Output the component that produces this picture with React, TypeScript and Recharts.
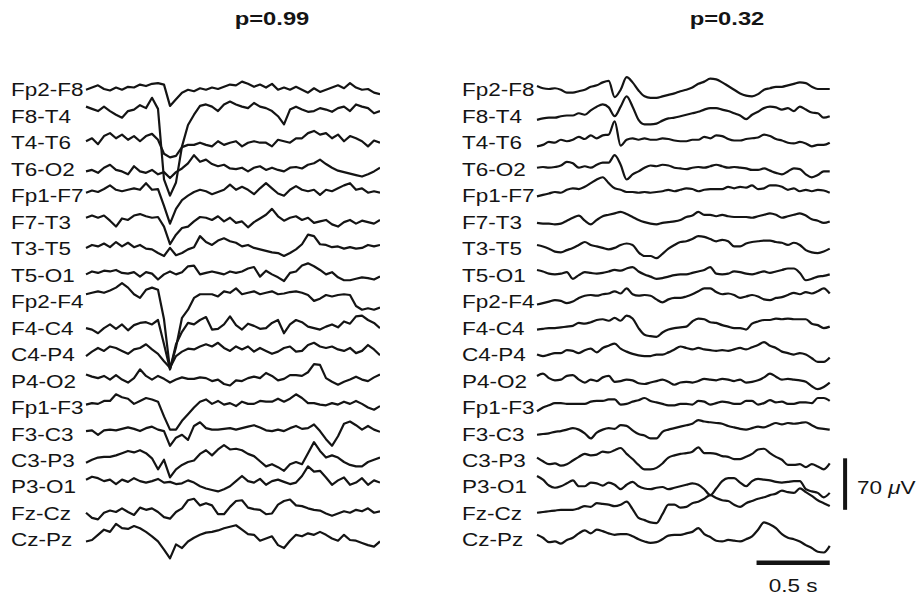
import { LineChart, Line, XAxis, YAxis, ReferenceLine } from "recharts";

// Bipolar montage, top to bottom
const CHANNELS = [
  "Fp2-F8", "F8-T4", "T4-T6", "T6-O2",
  "Fp1-F7", "F7-T3", "T3-T5", "T5-O1",
  "Fp2-F4", "F4-C4", "C4-P4", "P4-O2",
  "Fp1-F3", "F3-C3", "C3-P3", "P3-O1",
  "Fz-Cz", "Cz-Pz",
];

// 2 s epochs, 50 samples each, amplitudes in µV
const EPOCH_S = 2;
const N_SAMPLES = 50;

// --- p=0.99 epoch (left) ---
const l_Fp2F8 = [0, 3, 6, 1, -1, 3, 0, 4, 3, 7, 5, 8, 9, 7, -22, -13, -4, 0, -2, 2, 0, 3, 1, 4, 7, 6, 11, 8, 4, 7, 3, 8, 0, 3, 0, 4, 0, -4, 2, -3, 0, 3, 6, 2, 9, 3, 0, 1, -4, -6];
const l_F8T4 = [13, 10, 7, 13, 7, 2, -2, 7, 9, 15, 11, 25, 10, -86, -108, -90, -41, -12, 2, 14, 16, 13, 7, 16, 20, 16, 13, 11, 18, 13, 11, 7, 0, -11, 9, 13, 9, 6, 7, 11, 9, 6, 11, 13, 7, 16, 13, 11, 4, 7];
const l_T4T6 = [2, 6, -2, 9, 13, 6, 11, 4, 9, 2, 9, 12, 4, -15, -20, -18, -6, -3, -3, 0, -3, -5, 2, -3, 0, 2, -5, 0, 2, 0, 0, -5, 4, 2, 0, 6, 6, 13, 16, 11, 13, 6, 11, 2, 9, 6, 2, -5, 3, 0];
const l_T6O2 = [-3, -1, -5, 2, 6, -1, -3, -7, 4, -3, -5, -1, -7, -4, -12, -4, 1, 8, 19, 10, 13, 7, 4, 6, 1, 0, 2, -3, 2, 4, -1, 2, -1, -3, 2, 3, 1, 6, 8, 13, 7, 2, -2, -4, -6, -8, -10, -7, -3, 2];
const l_Fp1F7 = [4, 7, 5, 9, 14, 8, 6, 8, 10, 8, 17, 8, 9, -14, -38, -18, -6, 0, 5, 8, 6, 2, 5, 8, 15, 8, 12, 8, 2, 10, 17, 10, 3, 0, 8, 13, 8, 6, 8, 1, 8, 6, 10, 14, 17, 8, 10, 4, 6, 4];
const l_F7T3 = [6, 9, 6, 9, 2, -6, 5, 3, 9, 11, 8, 6, 7, -6, -30, -17, -8, -6, 1, 7, 6, 3, 8, 1, 6, -1, 1, -7, 0, 5, 10, 18, 8, 2, 6, 8, 3, 6, -1, 1, 3, -3, -6, 0, 3, -2, 2, 0, -2, 3];
const l_T3T5 = [1, 5, 3, 7, 2, 9, 3, 8, 2, 5, 0, -1, -6, -10, 1, -9, -6, -1, 2, 17, 9, 5, 11, 14, 10, 8, 3, 5, 1, -1, -3, -5, -6, -10, -6, -1, 6, 19, 17, 6, 5, 2, 3, 0, 2, 0, 1, 5, 3, 5];
const l_T5O1 = [1, 5, 3, 6, 5, 7, 3, 2, 4, -2, 4, 2, -6, 1, 5, 1, 4, 12, 13, 1, 3, 5, 3, 1, 5, 3, 5, 9, 11, -2, 6, 1, -3, -8, 3, 5, 13, 16, 12, 7, 1, 4, -3, -7, -7, -5, -3, -4, -6, -2];
const l_Fp2F4 = [10, 12, 14, 12, 15, 19, 25, 19, 10, 5, 16, 19, 16, -24, -92, -62, -22, -11, 5, 10, 10, 10, 7, 14, 12, 18, 10, 12, 14, 10, 12, 14, 10, 11, 13, 14, 12, 9, 1, 4, 9, 7, 9, 10, 9, -6, -11, -9, -11, -8];
const l_F4C4 = [0, -2, -7, 0, 5, -1, 5, -3, 4, 7, 8, 5, 11, -22, -56, -22, -5, 7, 5, 11, 15, -2, -1, 5, 16, 4, -2, 6, 3, -1, 0, 7, 11, -7, 5, 11, 8, 2, 0, -2, 2, 5, 1, 9, 6, 16, 17, 11, 7, 0];
const l_C4P4 = [-2, 4, 9, 5, 11, 9, 5, 1, 7, 9, 14, 7, 1, -9, -18, -2, 4, 8, 7, 11, 14, 11, 16, 9, 5, 11, 7, 11, 4, 9, 5, 1, 4, 9, 11, 4, 5, 13, 16, 11, 9, 11, 7, 5, 9, 2, 5, 13, 7, -1];
const l_P4O2 = [9, 6, 4, 7, 2, 8, 2, -2, 4, 16, 7, 2, 7, 3, -2, 2, 5, 3, 3, 5, 4, 0, 2, -4, -6, 1, 0, 4, 6, 4, 11, 7, 1, 3, 8, 8, 7, 12, 23, 22, 4, -1, -5, -1, 2, 6, 2, 0, 5, 9];
const l_Fp1F3 = [4, 6, 5, 9, 9, 18, 14, 12, 5, 9, 13, 11, 8, -12, -30, -30, -18, -9, 0, 8, 11, 5, 9, 4, 6, 2, 8, 5, 5, 9, 8, 8, 12, 8, 12, 18, 13, 6, 6, 4, 3, 6, 4, 8, 5, 9, 5, 0, -3, 2];
const l_F3C3 = [4, 5, -1, 5, 6, 5, 7, 9, 7, 4, 8, 10, 6, 4, -16, -5, -1, -8, 11, 16, 8, 6, 6, 7, 8, 6, 8, 10, 12, 9, 5, 4, 6, 4, 8, 11, 7, 8, 13, 4, -7, -16, -3, 14, 17, 12, 6, 11, 6, 3];
const l_C3P3 = [-3, 1, 4, 5, 5, 7, 10, 13, 11, 14, 10, 3, -12, 1, -23, -12, -6, -2, 0, 9, 14, 7, 15, 21, 15, 16, 14, 9, 6, -1, -8, -5, -9, -14, -5, -2, -5, 10, 25, 13, 4, 7, 4, -2, -6, -8, -8, -2, 1, 4];
const l_P3O1 = [10, 14, 12, 8, 10, 4, 10, 7, 12, 8, 6, 8, 11, 6, 7, 4, 5, 9, 6, 1, -2, -4, -6, -3, 1, 8, 15, 8, 6, 11, 3, 8, 10, 7, 4, 6, 15, 28, 21, 22, 13, 3, 9, 13, 3, 6, 12, 3, 9, 6];
const l_FzCz = [1, -6, -8, 1, 4, 2, 7, 2, -2, 8, 5, 7, 2, -5, -7, 2, 7, 18, 20, 11, 14, 11, -1, -1, 9, 17, 18, 8, 6, 5, -1, 0, 12, 17, 19, 11, 10, 7, 5, 4, 0, -3, 0, 3, 1, 5, 3, 7, 1, 3];
const l_CzPz = [-2, 0, 7, 14, 11, 22, 16, 15, 19, 16, 11, 5, -2, -13, -25, -6, -11, -2, 3, 7, 10, 11, 13, 16, 18, 20, 14, 8, 7, -1, 2, 5, -7, -11, -1, 7, 5, 9, 7, 11, 7, 2, -1, 7, 0, -1, -4, -7, -9, -2];

// --- p=0.32 epoch (right) ---
const r_Fp2F8 = [5, 2, 1, 2, 0, -4, -4, -2, 0, 4, 6, 10, 12, -10, 0, 17, 10, -1, -9, -11, -11, -9, -7, -5, -2, 0, 3, 8, 11, 15, 14, 10, 5, 0, -5, -8, -9, -6, 0, 2, 4, 4, 6, 8, 10, 9, 4, 1, 1, 1];
const r_F8T4 = [-5, -3, -2, -2, 0, 1, 1, 4, 2, 8, 13, 16, 12, 0, 13, 27, 13, -5, -11, -11, -10, -6, -3, -2, 0, 2, 4, 6, 9, 11, 11, 9, 7, 4, 1, -4, 2, 6, 11, 13, 12, 9, 11, 7, 13, 9, 5, 4, -2, 0];
const r_T4T6 = [-5, -3, 1, 0, 4, 2, 4, 8, 5, 10, 6, 10, 11, 29, -4, 4, 6, 4, 6, 4, 4, 6, 5, 3, 2, 2, 4, 4, 8, 6, 10, 9, 5, 3, 3, 5, 6, 7, 11, 9, 5, 3, 0, -1, 1, -1, -5, -3, -3, 0];
const r_T6O2 = [2, 3, 2, 3, 5, 10, 8, 2, 4, 2, 6, 9, 9, 19, 6, -14, -7, -3, 2, 5, 4, 6, 5, 2, 1, 0, 2, 3, 2, 4, 6, 4, 2, 3, 2, 1, -1, -1, 1, -2, -5, -7, -3, 1, 0, -7, -11, -8, -3, -3];
const r_Fp1F7 = [-1, 1, 3, 5, 4, 8, 10, 9, 12, 17, 22, 25, 17, 10, 8, 5, 5, 4, 5, 4, 5, 6, 8, 6, 8, 10, 9, 6, 8, 9, 9, 9, 12, 10, 12, 11, 14, 9, 10, 14, 14, 12, 8, 10, 6, 8, 6, 8, 7, 4];
const r_F7T3 = [-1, -2, -2, -3, -2, 2, 6, 9, 2, -3, 3, 8, 10, 12, 14, 11, 7, 3, 0, -2, -3, -1, 0, 1, 3, 7, 9, 14, 10, 10, 8, 10, 8, 7, 7, 7, 6, 8, 10, 12, 10, 6, 8, 10, 12, 9, 4, 2, -1, 1];
const r_T3T5 = [5, 3, 0, -4, -5, -2, 1, 5, 9, 5, 3, 1, -1, 1, 5, 7, 5, -5, -10, -10, -13, -7, 0, 5, 9, 10, 13, 17, 16, 13, 10, 12, 10, 3, 3, 7, 9, 10, 11, 11, 9, 8, 5, 8, 5, -2, -5, -6, -4, 0];
const r_T5O1 = [7, 5, 2, 1, 2, 4, -5, 0, 4, 3, 2, 3, 5, 7, 6, 9, 11, 5, 1, -2, -5, -4, -2, 0, 1, 1, 3, 5, 7, 11, 2, 1, 2, 5, 4, 2, 1, 3, 5, 3, 5, 7, 9, 9, 3, -7, -5, -2, -1, 1];
const r_Fp2F4 = [-4, -2, 0, 2, 1, -2, 0, 5, 8, 9, 8, 10, 11, 14, 11, 18, 10, 8, 9, 8, 3, -1, 3, 5, 5, 7, 10, 14, 18, 18, 13, 10, 11, 9, 5, 7, 9, 7, 3, 2, 5, 6, 9, 12, 10, 13, 11, 14, 18, 11];
const r_F4C4 = [-2, -1, 0, 0, 1, 2, 3, 7, 6, 8, 11, 12, 10, 14, 10, 17, 13, 0, -9, -11, -12, -6, -2, 0, 1, 2, 9, 13, 12, 8, 7, 4, 2, 0, 0, -2, 6, 9, 11, 11, 13, 12, 13, 12, 12, 12, 6, 4, 0, 2];
const r_C4P4 = [0, -2, 0, 2, 2, 6, 5, 2, 6, 8, 3, 9, 12, 15, 8, 4, 1, -1, -2, -2, 0, 0, 3, 7, 11, 9, 7, 9, 7, 6, 5, 6, 5, 7, 9, 7, 10, 13, 17, 12, 9, 4, 2, 0, 2, 0, -5, -10, -10, -4];
const r_P4O2 = [7, 10, 4, 1, 2, 7, 8, 2, -2, 2, 0, 5, 7, -1, 0, 2, 1, -3, -4, -2, 0, 2, -1, -5, -2, -1, -2, 0, 3, 2, 1, 3, 2, 0, 2, -2, -1, 1, 5, 10, 6, 2, 3, 2, 1, -1, -7, -11, -8, -2];
const r_Fp1F3 = [-5, 0, 3, 6, 6, 5, 5, 5, 5, 8, 9, 9, 11, 11, 4, 5, 8, 10, 13, 9, 7, 5, 3, 3, 5, 5, 4, 9, 8, 4, 6, 8, 7, 5, 5, 9, 9, 4, 6, 10, 7, 8, 5, 5, 7, 7, 6, 13, 13, 9];
const r_F3C3 = [-1, 0, 1, 3, 4, 6, 8, 6, 1, -6, 2, 6, 8, 7, 12, 11, 5, 0, -2, -6, -6, 3, 6, 8, 10, 12, 14, 19, 17, 16, 15, 14, 11, 9, 7, 6, 8, 10, 9, 12, 15, 13, 15, 14, 15, 16, 12, 8, 7, 6];
const r_C3P3 = [4, -1, -5, -4, -7, -5, 0, 5, 9, 7, 8, 12, 11, 14, 17, 9, 2, -6, -12, -12, -10, -4, 4, 7, 9, 10, 12, 18, 10, 10, 9, 6, 5, 2, 2, 5, 9, 15, 16, 10, 5, 1, -6, -6, -5, -9, -5, -8, -12, -4];
const r_P3O1 = [15, 10, 2, -1, 1, 5, 9, 1, 1, 6, 5, 2, 6, 3, -3, 3, 7, 1, -2, -3, -1, 0, -3, -1, 1, 3, 5, 3, -3, -11, -2, 8, 12, 12, 6, 1, 8, 11, 10, 9, 7, 6, 7, 8, 8, -3, -6, -8, -14, -8];
const r_FzCz = [1, 2, 3, 4, 5, 5, 5, 7, 10, 9, 14, 13, 12, 10, 12, 16, 6, -6, -9, -12, -13, -1, 12, 12, 8, 9, 14, 16, 20, 25, 21, 18, 17, 12, 9, 14, 17, 20, 22, 25, 27, 31, 29, 28, 34, 29, 24, 18, 14, 10];
const r_CzPz = [7, 3, -3, -2, -5, 0, 3, 9, 13, 9, 14, 12, 9, 7, 8, 8, 5, 1, -2, -4, -3, 1, 6, 7, 7, 9, 11, 16, 8, 4, -1, -2, 0, -1, -2, 1, 5, 14, 24, 21, 16, 8, 3, 1, -2, -7, -11, -16, -17, -8];

const LEFT_TRACES = [l_Fp2F8, l_F8T4, l_T4T6, l_T6O2, l_Fp1F7, l_F7T3, l_T3T5, l_T5O1, l_Fp2F4, l_F4C4, l_C4P4, l_P4O2, l_Fp1F3, l_F3C3, l_C3P3, l_P3O1, l_FzCz, l_CzPz];
const RIGHT_TRACES = [r_Fp2F8, r_F8T4, r_T4T6, r_T6O2, r_Fp1F7, r_F7T3, r_T3T5, r_T5O1, r_Fp2F4, r_F4C4, r_C4P4, r_P4O2, r_Fp1F3, r_F3C3, r_C3P3, r_P3O1, r_FzCz, r_CzPz];

// scale bars
const SCALE_UV = 70;
const SCALE_S = 0.5;

// layout
const ROW_UV = 36; // spacing between channels
const Y_DOMAIN: [number, number] = [-680, 54];
const LABEL_W = 75;
const PLOT_H = 540;
const STRETCH = 1.25; // the figure is a bit wider than tall
const INK = "#141414";
const FONT = '"Liberation Sans", Arial, Helvetica, sans-serif';

const OFFSETS = CHANNELS.map((_, c) => -c * ROW_UV);

function buildRows(traces: number[][]) {
  const dt = EPOCH_S / (N_SAMPLES - 1);
  return traces[0].map((_, i) => {
    const row: Record<string, number> = { t: i * dt };
    traces.forEach((tr, c) => {
      row["c" + c] = tr[i] + OFFSETS[c];
    });
    return row;
  });
}

const leftRows = buildRows(LEFT_TRACES);
const rightRows = buildRows(RIGHT_TRACES);

const ChannelTick = (props: any) => {
  const { y, payload } = props;
  const idx = Math.round(-payload.value / ROW_UV);
  return (
    <text
      x={0}
      y={0}
      dy="0.36em"
      transform={`translate(0,${y}) scale(${STRETCH},1)`}
      fontSize={18}
      fontFamily={FONT}
      fill={INK}
      textAnchor="start"
    >
      {CHANNELS[idx]}
    </text>
  );
};

function Montage({
  rows,
  width,
  xMax,
  curve,
  children,
}: {
  rows: Record<string, number>[];
  width: number;
  xMax: number;
  curve: "linear" | "monotone";
  children?: React.ReactNode;
}) {
  return (
    <LineChart width={width} height={PLOT_H} data={rows} margin={{ top: 0, right: 0, bottom: 0, left: 0 }}>
      <XAxis dataKey="t" type="number" domain={[0, xMax]} hide />
      <YAxis
        type="number"
        domain={Y_DOMAIN}
        ticks={OFFSETS}
        interval={0}
        width={LABEL_W}
        axisLine={false}
        tickLine={false}
        tick={<ChannelTick />}
      />
      {CHANNELS.map((name, c) => (
        <Line
          key={name}
          dataKey={"c" + c}
          type={curve}
          stroke={INK}
          strokeWidth={2.2}
          strokeLinejoin="round"
          dot={false}
          isAnimationActive={false}
        />
      ))}
      {children}
    </LineChart>
  );
}

export default function App() {
  const txt = (x: number, y: number, s: React.ReactNode, opts: any = {}) => (
    <text
      x={0}
      y={0}
      transform={`translate(${x},${y}) scale(${STRETCH},1)`}
      fontFamily={FONT}
      fill={INK}
      fontSize={18}
      {...opts}
    >
      {s}
    </text>
  );

  return (
    <div style={{ position: "absolute", left: 0, top: 0, width: 920, height: 598, background: "#fff" }}>
      <div style={{ position: "absolute", left: 11, top: 50 }}>
        <Montage rows={leftRows} width={LABEL_W + 294} xMax={EPOCH_S} curve="linear" />
      </div>
      <div style={{ position: "absolute", left: 462, top: 50 }}>
        <Montage rows={rightRows} width={LABEL_W + 322} xMax={2.2} curve="monotone">
          <ReferenceLine
            segment={[{ x: 2.105, y: -501 }, { x: 2.105, y: -501 - SCALE_UV }]}
            stroke={INK}
            strokeWidth={4}
            ifOverflow="visible"
          />
          <ReferenceLine
            segment={[{ x: EPOCH_S - SCALE_S, y: -643 }, { x: EPOCH_S, y: -643 }]}
            stroke={INK}
            strokeWidth={4.5}
            ifOverflow="visible"
          />
        </Montage>
      </div>
      <svg width={920} height={598} style={{ position: "absolute", left: 0, top: 0, pointerEvents: "none" }}>
        {txt(272, 25, "p=0.99", { fontWeight: "bold", textAnchor: "middle", fontSize: 19 })}
        {txt(727, 25, "p=0.32", { fontWeight: "bold", textAnchor: "middle", fontSize: 19 })}
        {txt(
          857,
          494,
          <>
            <tspan>70 </tspan>
            <tspan fontStyle="italic">μ</tspan>
            <tspan>V</tspan>
          </>
        )}
        {txt(793, 592, "0.5 s", { textAnchor: "middle" })}
      </svg>
    </div>
  );
}
